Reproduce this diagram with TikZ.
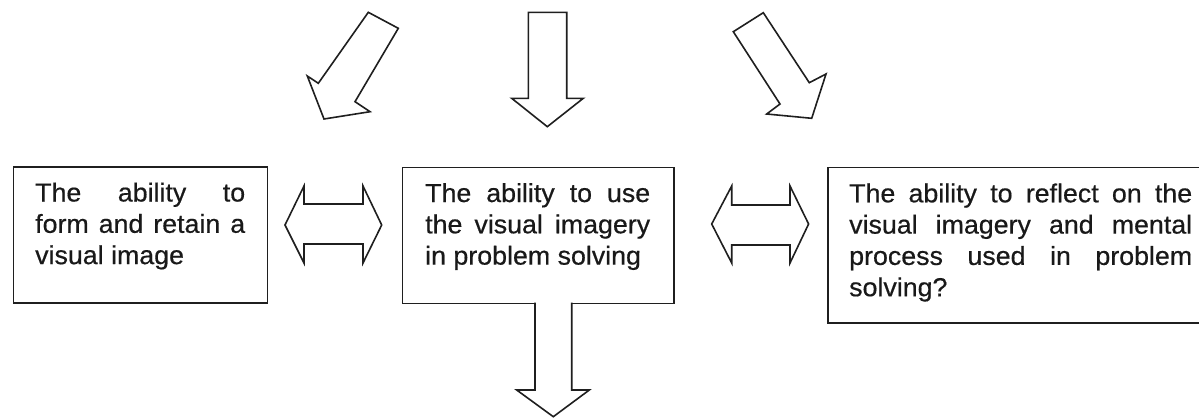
\documentclass[tikz,border=0pt]{standalone}
\usepackage{fontspec}
\newfontfamily\boxfont[FakeStretch=1.03,FakeBold=0.5]{Liberation Sans}
\newcommand{\jline}[2]{\makebox[#1][s]{#2}}
\begin{document}
\begin{tikzpicture}[x=1pt,y=-1pt,
  frame/.style={draw=black!88, line width=1.6pt, inner sep=0pt, anchor=north west},
  blockarrow/.style={draw=black!88, line width=1.6pt, fill=white, line join=miter},
  boxlabel/.style={inner sep=0pt, anchor=base west, text=black!90,
    font=\boxfont\fontsize{26pt}{31.3pt}\selectfont}]
\useasboundingbox (0,0) rectangle (1199,418);
\clip (0,0) rectangle (1199,418);

% boxes
\node[frame, minimum width=254pt, minimum height=136pt] (boxA) at (12.5,166) {};
\node[frame, minimum width=271.5pt, minimum height=136pt] (boxB) at (401.5,166.5) {};
\node[frame, minimum width=386.7pt, minimum height=155.6pt] (boxC) at (827.3,166.7) {};

% texts
\node[boxlabel] (txtA) at (35,201.5) {\parbox[t]{210pt}{\fontsize{26pt}{31.3pt}\selectfont
  \jline{210pt}{The ability to}\\
  \jline{210pt}{form and retain a}\\
  visual image}};
\node[boxlabel] (txtB) at (425,202) {\parbox[t]{225pt}{\fontsize{26pt}{31.3pt}\selectfont
  \jline{225pt}{The ability to use}\\
  \jline{225pt}{the visual imagery}\\
  in problem solving}};
\node[boxlabel] (txtC) at (849,202.3) {\parbox[t]{343pt}{\fontsize{26pt}{31.3pt}\selectfont
  \jline{343pt}{The ability to reflect on the}\\
  \jline{343pt}{visual imagery and mental}\\
  \jline{343pt}{process used in problem}\\
  solving?}};

% top arrows
\coordinate (tl) at (368.3,12.3);
\draw[blockarrow] (tl) -- (398.3,28.3) -- (355,101.7) -- (370,111.7) -- (324,119)
  -- (307.3,76) -- (318.3,83.3) -- cycle;
\coordinate (tm) at (528.3,12.3);
\draw[blockarrow] (tm) -- (566.7,12.3) -- (566.7,98.3) -- (583.3,98.3) -- (547.3,126.7)
  -- (511.7,98.3) -- (528.3,98.3) -- cycle;
\coordinate (tr) at (733.3,31.7);
\draw[blockarrow] (tr) -- (763.3,12.7) -- (809.3,82.7) -- (826,74) -- (811.7,118.3)
  -- (766.7,114) -- (780,104) -- cycle;

% double arrows between boxes
\coordinate (dab) at (285,225);
\draw[blockarrow] (dab) -- (304,186) -- (304,204) -- (363,204) -- (363,186) -- (381.7,225)
  -- (363,263) -- (363,244) -- (304,244) -- (304,263) -- cycle;
\coordinate (dbc) at (711.7,224);
\draw[blockarrow] (dbc) -- (731.7,186) -- (731.7,205) -- (790,205) -- (790,186) -- (808.6,224)
  -- (790,263) -- (790,245) -- (731.7,245) -- (731.7,263) -- cycle;

% bottom arrow from box B
\coordinate (bl) at (535,302.5);
\coordinate (br) at (571.7,302.5);
\draw[blockarrow] (bl) -- (535,390) -- (516.7,390) -- (553.3,416.7) -- (589.3,390)
  -- (571.7,390) -- (br);
\end{tikzpicture}
\end{document}
